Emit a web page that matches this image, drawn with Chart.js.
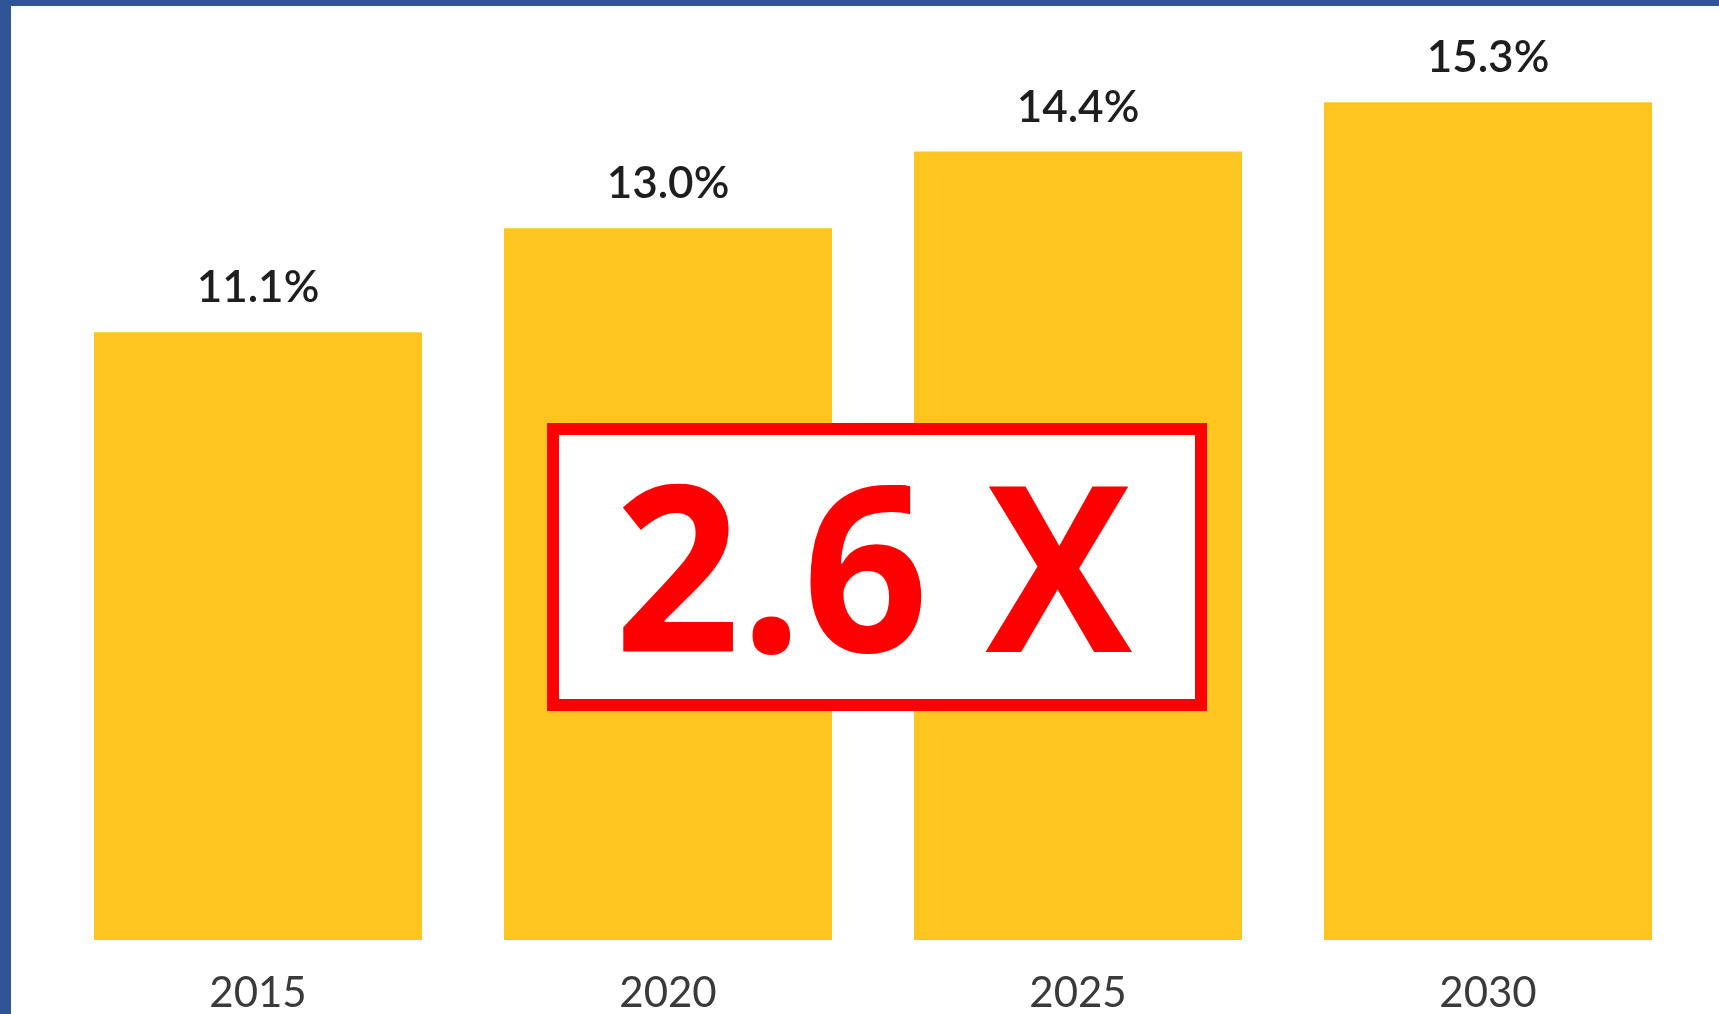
<!DOCTYPE html>
<html>
<head>
<meta charset="utf-8">
<script src="https://cdn.jsdelivr.net/npm/chart.js@4/dist/chart.umd.min.js"></script>
<style>
  html, body { margin: 0; padding: 0; background: #fff; overflow: hidden; }
  #frame-top { position: absolute; left: 0; top: 0; width: 1719px; height: 6px; background: #2F5597; }
  #frame-left { position: absolute; left: 0; top: 0; width: 11px; height: 1014px; background: #2F5597; }
  canvas { display: block; }
</style>
</head>
<body>
<canvas id="chart" width="1719" height="1014"></canvas>
<div id="frame-top"></div>
<div id="frame-left"></div>
<script>
// years and share values (%)
const years = ["2015", "2020", "2025", "2030"];
const shares = [11.1, 13.0, 14.4, 15.3];
const valueLabels = ["11.1%", "13.0%", "14.4%", "15.3%"];
const growthText = "2.6 X";

// value labels above each bar
const barLabels = {
  id: "barLabels",
  afterDatasetsDraw(chart) {
    const ctx = chart.ctx;
    const meta = chart.getDatasetMeta(0);
    ctx.save();
    ctx.font = "600 44px Lato";
    ctx.fillStyle = "#1e1e1e";
    ctx.textAlign = "center";
    ctx.textBaseline = "alphabetic";
    meta.data.forEach(function(bar, i) {
      ctx.fillText(valueLabels[i], bar.x, bar.y - 30);
    });
    ctx.restore();
  }
};

// red framed callout in the middle of the chart
const callout = {
  id: "callout",
  afterDraw(chart) {
    const ctx = chart.ctx;
    const left = 547, top = 423, w = 660, h = 288, line = 12;
    ctx.save();
    ctx.fillStyle = "#fff";
    ctx.fillRect(left, top, w, h);
    ctx.strokeStyle = "#ff0000";
    ctx.lineWidth = line;
    ctx.strokeRect(left + line / 2, top + line / 2, w - line, h - line);

    ctx.font = "bold 231px 'Open Sans'";
    ctx.fillStyle = "#ff0000";
    ctx.textBaseline = "alphabetic";
    ctx.textAlign = "left";
    const m = ctx.measureText(growthText);
    const ink = m.actualBoundingBoxLeft + m.actualBoundingBoxRight;
    const sx = 511 / ink;
    ctx.translate(622, 652);
    ctx.scale(sx, 1);
    ctx.fillText(growthText, m.actualBoundingBoxLeft, 0);
    ctx.restore();
  }
};

new Chart(document.getElementById("chart"), {
  type: "bar",
  data: {
    labels: years,
    datasets: [{
      data: shares,
      backgroundColor: "#FEC51F",
      borderWidth: 0,
      barPercentage: 0.8,
      categoryPercentage: 1.0
    }]
  },
  options: {
    responsive: false,
    animation: false,
    layout: { padding: { left: 53, right: 26, top: 64, bottom: 0 } },
    plugins: { legend: { display: false }, tooltip: { enabled: false } },
    scales: {
      x: {
        grid: { display: false, drawTicks: false },
        border: { display: false },
        ticks: { padding: 28, color: "#3a3a3a", font: { family: "Lato", size: 42 } },
        afterFit(scale) { scale.height = 74; }
      },
      y: {
        display: false,
        min: 0,
        max: 16
      }
    }
  },
  plugins: [barLabels, callout]
});
</script>
</body>
</html>
